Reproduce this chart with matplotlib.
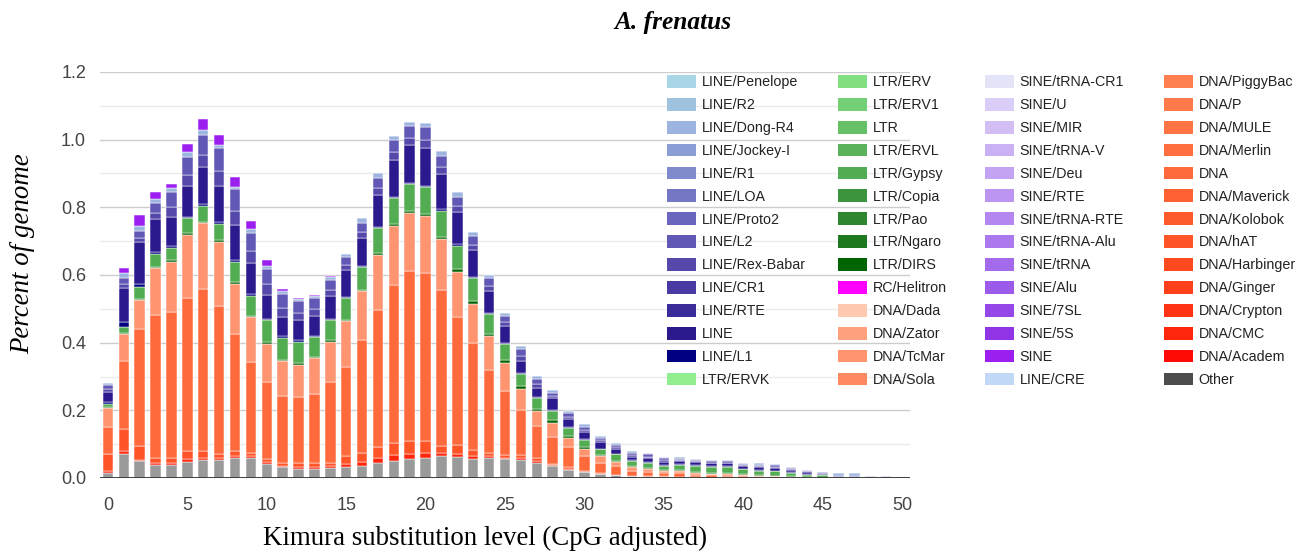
import matplotlib
matplotlib.use("Agg")
import matplotlib.pyplot as plt
from matplotlib.patches import Patch
import numpy as np

# ---------------- data (percent of genome per Kimura bin 0..50) ----------------
kimura_bins = list(range(51))

unknown = [.015, .071, .049, .039, .037, .046, .052, .052, .059, .059,
           .041, .032, .028, .028, .030, .032, .035, .044, .051, .057,
           .059, .064, .061, .057, .059, .056, .054, .044, .035, .025,
           .018, .012, .008, .005, .004, .003, .002, .002, .001, .001,
           0, 0, 0, 0, 0, 0, 0, 0, 0, 0, 0]
dna_cmc = [.007, .008, .005, .006, .007, .010, .008, .006, .006, .005,
           .005, .004, .005, .005, .005, .010, .012, .015, .016, .015,
           .015, .009, .011, .008, .005, .004, .005, .005, .003, .002,
           .001, .001, .001, .001, .001, .001, 0, 0, 0, 0,
           0, 0, 0, 0, 0, 0, 0, 0, 0, 0, 0]
dna_hat = [.050, .067, .040, .014, .016, .025, .019, .013, .014, .010,
           .011, .009, .012, .012, .010, .023, .027, .034, .036, .036,
           .034, .021, .027, .019, .010, .009, .010, .010, .004, .005,
           .003, .002, .001, .001, .001, .001, .001, 0, 0, 0,
           0, 0, 0, 0, 0, 0, 0, 0, 0, 0, 0]
dna_unclass = [.078, .201, .345, .424, .430, .452, .479, .437, .347, .269,
               .227, .197, .193, .204, .240, .264, .333, .403, .467, .505,
               .497, .462, .378, .314, .244, .188, .133, .096, .079, .059,
               .042, .030, .025, .015, .013, .010, .011, .008, .007, .006,
               .005, .004, .003, .002, .001, 0, 0, 0, 0, 0, 0]
dna_tcmar = [.057, .079, .087, .138, .148, .186, .195, .190, .148, .133,
             .113, .104, .097, .105, .118, .134, .146, .163, .175, .171,
             .170, .150, .133, .117, .102, .082, .062, .042, .042, .028,
             .023, .020, .012, .010, .008, .006, .007, .006, .005, .004,
             .003, .002, .002, .001, .001, 0, 0, 0, 0, 0, 0]
ltr_dirs = [.002, .003, .004, .004, .005, .004, .005, .005, .004, .004,
            .004, .004, .004, .004, .004, .005, .004, .005, .005, .005,
            .005, .007, .007, .008, .007, .009, .007, .007, .007, .005,
            .004, .003, .003, .003, .003, .003, .003, .003, .003, .003,
            .003, .002, .002, .002, .001, .001, 0, 0, 0, 0, 0]
ltr_gypsy = [.010, .018, .035, .036, .038, .044, .046, .049, .061, .059,
             .065, .065, .064, .059, .059, .064, .067, .074, .077, .079,
             .079, .077, .069, .067, .057, .047, .035, .033, .028, .025,
             .020, .017, .020, .015, .015, .012, .014, .017, .017, .019,
             .015, .014, .013, .010, .007, .007, .001, .001, 0, 0, 0]
line_l1 = [.005, .015, .007, .008, .005, .005, .007, .006, .006, .005,
           .004, .004, .004, .004, .004, .004, .004, .005, .005, .005,
           .005, .005, .005, .004, .004, .004, .003, .003, .004, .003,
           .003, .002, .002, .002, .002, .002, .002, .002, .002, .002,
           .002, .002, .002, .002, .002, .001, 0, 0, 0, 0, 0]
line_unclass = [.030, .100, .126, .096, .086, .092, .107, .105, .104, .092,
                .072, .057, .060, .059, .068, .079, .081, .094, .108, .111,
                .111, .104, .094, .080, .065, .050, .038, .027, .035, .022,
                .022, .020, .015, .011, .011, .010, .009, .008, .008, .008,
                .008, .008, .008, .008, .006, .004, .002, .002, 0, 0, 0]
line_rexbabar = [.008, .012, .012, .018, .028, .032, .038, .045, .040, .035,
                 .030, .027, .022, .020, .018, .014, .018, .020, .023, .022,
                 .024, .021, .018, .016, .014, .012, .013, .010, .006, .007,
                 .006, .004, .005, .005, .005, .004, .003, .003, .002, .002,
                 .002, .003, .003, .002, .002, .002, .001, .001, .001, .001, 0]
line_l2 = [.014, .018, .020, .031, .044, .052, .059, .068, .064, .054,
           .047, .042, .033, .031, .029, .023, .028, .031, .036, .034,
           .037, .033, .028, .025, .023, .018, .020, .017, .009, .010,
           .009, .007, .007, .007, .007, .006, .004, .004, .004, .004,
           .003, .004, .004, .002, .002, .002, .003, .003, .001, .001, .001]
line_dongr4 = [.005, .013, .015, .012, .013, .015, .015, .008, .007, .010,
               .008, .008, .006, .007, .010, .010, .013, .012, .013, .013,
               .014, .013, .014, .013, .010, .010, .010, .008, .007, .008,
               .008, .005, .005, .006, .005, .005, .005, .004, .004, .004,
               .003, .004, .004, .004, .003, .002, .007, .008, .004, .003, .003]
sine_unclass = [0, .017, .033, .018, .012, .023, .032, .030, .030, .025,
                .017, .005, .004, .003, .001, .001, .001, 0, 0, 0,
                0, 0, 0, 0, 0, 0, 0, 0, 0, 0,
                0, 0, 0, 0, 0, 0, 0, 0, 0, 0,
                0, 0, 0, 0, 0, 0, 0, 0, 0, 0, 0]

# legend columns (as shown, column by column)
legend_col1 = ["LINE/Penelope", "LINE/R2", "LINE/Dong-R4", "LINE/Jockey-I", "LINE/R1",
               "LINE/LOA", "LINE/Proto2", "LINE/L2", "LINE/Rex-Babar", "LINE/CR1",
               "LINE/RTE", "LINE", "LINE/L1", "LTR/ERVK"]
legend_col2 = ["LTR/ERV", "LTR/ERV1", "LTR", "LTR/ERVL", "LTR/Gypsy", "LTR/Copia",
               "LTR/Pao", "LTR/Ngaro", "LTR/DIRS", "RC/Helitron", "DNA/Dada",
               "DNA/Zator", "DNA/TcMar", "DNA/Sola"]
legend_col3 = ["SINE/tRNA-CR1", "SINE/U", "SINE/MIR", "SINE/tRNA-V", "SINE/Deu",
               "SINE/RTE", "SINE/tRNA-RTE", "SINE/tRNA-Alu", "SINE/tRNA", "SINE/Alu",
               "SINE/7SL", "SINE/5S", "SINE", "LINE/CRE"]
legend_col4 = ["DNA/PiggyBac", "DNA/P", "DNA/MULE", "DNA/Merlin", "DNA", "DNA/Maverick",
               "DNA/Kolobok", "DNA/hAT", "DNA/Harbinger", "DNA/Ginger", "DNA/Crypton",
               "DNA/CMC", "DNA/Academ", "Other"]

colors = {
    "LINE/Penelope": "#a9d6e6", "LINE/R2": "#9fc2df", "LINE/Dong-R4": "#9eb4e0",
    "LINE/Jockey-I": "#8b9dd5", "LINE/R1": "#7f8bcd", "LINE/LOA": "#7577c5",
    "LINE/Proto2": "#6b66bd", "LINE/L2": "#6158b5", "LINE/Rex-Babar": "#5448ab",
    "LINE/CR1": "#483aa3", "LINE/RTE": "#392b98", "LINE": "#2a1a8e",
    "LINE/L1": "#000080", "LTR/ERVK": "#90ee90",
    "LTR/ERV": "#82df82", "LTR/ERV1": "#74d074", "LTR": "#66c166", "LTR/ERVL": "#5ab35a",
    "LTR/Gypsy": "#52ad52", "LTR/Copia": "#3c953c", "LTR/Pao": "#2e872e",
    "LTR/Ngaro": "#1e781e", "LTR/DIRS": "#006400", "RC/Helitron": "#ff00ff",
    "DNA/Dada": "#ffc8b0", "DNA/Zator": "#ffa07e", "DNA/TcMar": "#ff9470",
    "DNA/Sola": "#ff8a62",
    "SINE/tRNA-CR1": "#e4e4f8", "SINE/U": "#dacdf7", "SINE/MIR": "#d2bdf5",
    "SINE/tRNA-V": "#cab0f4", "SINE/Deu": "#c3a3f3", "SINE/RTE": "#bb95f1",
    "SINE/tRNA-RTE": "#b387ef", "SINE/tRNA-Alu": "#ab79ed", "SINE/tRNA": "#a36aeb",
    "SINE/Alu": "#9b5ae9", "SINE/7SL": "#9548e7", "SINE/5S": "#9034e6",
    "SINE": "#9c1ff0", "LINE/CRE": "#c2d8f7",
    "DNA/PiggyBac": "#ff7f50", "DNA/P": "#ff7a4a", "DNA/MULE": "#ff7444",
    "DNA/Merlin": "#ff6e3e", "DNA": "#ff6a3c", "DNA/Maverick": "#ff6232",
    "DNA/Kolobok": "#ff5a2c", "DNA/hAT": "#ff5428", "DNA/Harbinger": "#ff4a20",
    "DNA/Ginger": "#ff401a", "DNA/Crypton": "#ff3414", "DNA/CMC": "#ff260c",
    "DNA/Academ": "#ff0a04", "Other": "#4d4d4d", "Unknown": "#9a9a9a",
}

# stacking order bottom -> top
stack = [
    ("Unknown", unknown), ("DNA/CMC", dna_cmc), ("DNA/hAT", dna_hat),
    ("DNA", dna_unclass), ("DNA/TcMar", dna_tcmar), ("LTR/DIRS", ltr_dirs),
    ("LTR/Gypsy", ltr_gypsy), ("LINE/L1", line_l1), ("LINE", line_unclass),
    ("LINE/Rex-Babar", line_rexbabar), ("LINE/L2", line_l2),
    ("LINE/Dong-R4", line_dongr4), ("SINE", sine_unclass),
]

# ---------------- figure ----------------
W, H = 1303, 552
fig = plt.figure(figsize=(W / 100, H / 100), dpi=100)
ax = fig.add_axes([100 / W, 74 / H, 810 / W, 406 / H])

sans = ["Liberation Sans", "DejaVu Sans"]
serif = ["Liberation Serif", "DejaVu Serif"]

x = np.array(kimura_bins)
bottom = np.zeros(len(x))
for name, vals in stack:
    v = np.array(vals, dtype=float)
    ax.bar(x, v, width=0.66, bottom=bottom, color=colors[name],
           edgecolor="white", linewidth=0.35, zorder=3)
    bottom += v

ax.set_xlim(-0.5, 50.5)
ax.set_ylim(0, 1.2)
ax.set_yticks(np.arange(0, 1.21, 0.2))
ax.set_yticks(np.arange(0.1, 1.2, 0.2), minor=True)
ax.set_yticklabels([f"{t:.1f}" for t in np.arange(0, 1.21, 0.2)])
ax.set_xticks(range(0, 51, 5))
ax.grid(axis="y", which="major", color="#cccccc", linewidth=1.0, zorder=0)
ax.grid(axis="y", which="minor", color="#ebebeb", linewidth=1.0, zorder=0)
ax.tick_params(axis="both", which="both", length=0)
ax.tick_params(axis="y", pad=10, labelsize=13, labelcolor="#444444")
ax.tick_params(axis="x", pad=14, labelsize=13, labelcolor="#444444")
for lbl in ax.get_xticklabels() + ax.get_yticklabels():
    lbl.set_family(sans)
for s in ax.spines.values():
    s.set_visible(False)
ax.axhline(0, color="#333333", linewidth=1.3, zorder=4)

fig.text(673 / W, 1 - 23 / H, "A. frenatus", ha="center", va="center",
         family=serif, style="italic", weight="bold", fontsize=18.3)
fig.text(23 / W, 1 - 254 / H, "Percent of genome", ha="center", va="center",
         rotation=90, family=serif, style="italic", fontsize=19.4)
fig.text(485 / W, 1 - 538 / H, "Kimura substitution level (CpG adjusted)",
         ha="center", va="center", family=serif, fontsize=19.4)

# ---------------- legend: four columns ----------------
col_x = [667, 838, 985, 1164]
for cx, names in zip(col_x, [legend_col1, legend_col2, legend_col3, legend_col4]):
    handles = [Patch(facecolor=colors[n], edgecolor="none") for n in names]
    leg = fig.legend(handles, names, loc="upper left",
                     bbox_to_anchor=(cx / W, 1 - 75 / H),
                     bbox_transform=fig.transFigure, frameon=False,
                     borderpad=0, borderaxespad=0, handlelength=2.0,
                     handleheight=1.0, handletextpad=0.42, labelspacing=0.6,
                     prop={"family": sans, "size": 10.3})
    for t in leg.get_texts():
        t.set_color("#222222")

fig.savefig("out.png", dpi=100)
